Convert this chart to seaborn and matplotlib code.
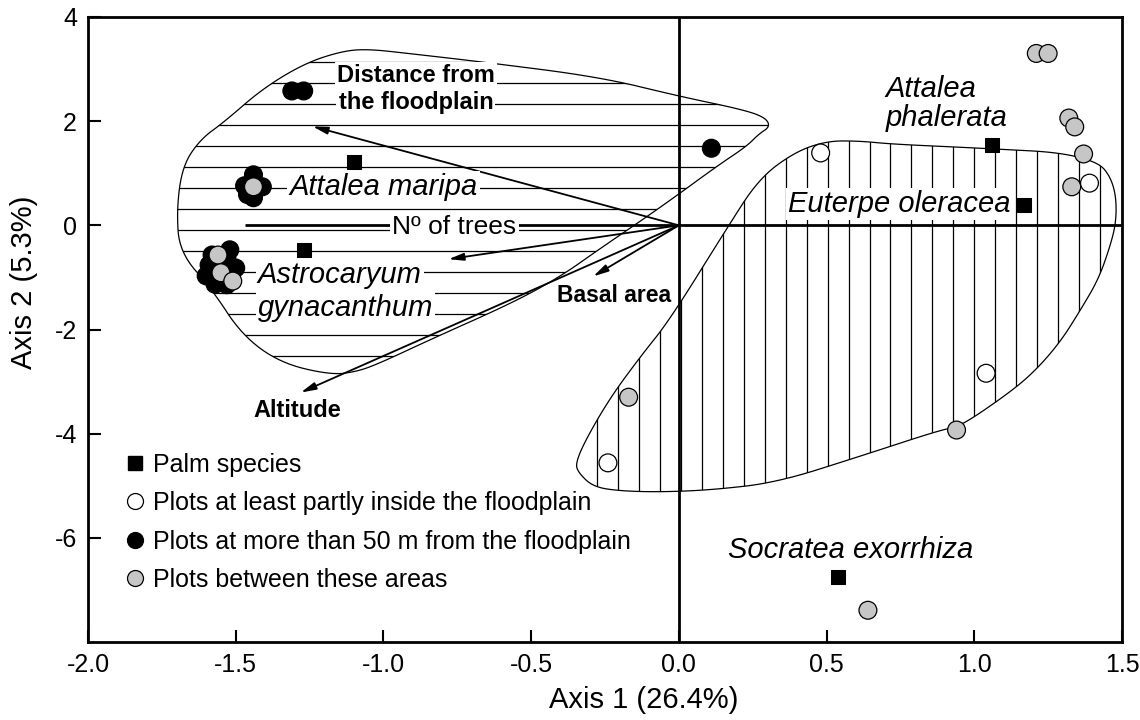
import numpy as np
import pandas as pd
import matplotlib
matplotlib.use("Agg")
import matplotlib.pyplot as plt
from matplotlib.patches import Polygon
from matplotlib.lines import Line2D
import seaborn as sns

# --- Palm species scores (squares) ---
species = ["Attalea maripa", "Astrocaryum gynacanthum", "Attalea phalerata",
           "Euterpe oleracea", "Socratea exorrhiza"]
species_x = [-1.10, -1.27, 1.06, 1.17, 0.54]
species_y = [1.21, -0.47, 1.54, 0.40, -6.75]

# --- Plot scores by group ---
far_x = [-1.31, -1.27, 0.11,
         -1.44, -1.47, -1.41, -1.44, -1.46,
         -1.52, -1.59, -1.60, -1.57, -1.53, -1.50, -1.53, -1.58]
far_y = [2.58, 2.58, 1.48,
         0.97, 0.76, 0.74, 0.53, 0.59,
         -0.47, -0.76, -0.97, -1.13, -1.14, -0.82, -0.63, -0.57]

between_x = [-1.44, -1.56, -1.55, -1.51,
             1.21, 1.25, 1.32, 1.34, 1.37, 1.33,
             -0.17, 0.94, 0.64]
between_y = [0.74, -0.57, -0.91, -1.07,
             3.30, 3.30, 2.06, 1.89, 1.37, 0.74,
             -3.30, -3.93, -7.39]

inside_x = [0.48, 1.39, 1.04, -0.24]
inside_y = [1.39, 0.81, -2.84, -4.56]

# --- Environmental vectors ---
vectors = ["Distance from the floodplain", "N\u00ba of trees", "Basal area", "Altitude"]
vec_x = [-1.24, -0.78, -0.29, -1.28]
vec_y = [1.90, -0.65, -0.98, -3.21]

# --- Hull outlines ---
hull_up_x = [-1.68, -1.62, -1.54, -1.41, -1.27, -1.15, -1.06, -0.90, -0.67, -0.27,
             0.00, 0.21, 0.29, 0.31, 0.27, 0.23, 0.13, -0.01, -0.12, -0.27,
             -0.40, -0.56, -0.84, -1.01, -1.09, -1.18, -1.35, -1.48, -1.58, -1.69, -1.70]
hull_up_y = [1.14, 1.65, 1.98, 2.62, 3.10, 3.33, 3.39, 3.29, 3.14, 2.85,
             2.48, 2.23, 2.08, 1.90, 1.75, 1.52, 1.14, 0.56, 0.12, -0.46,
             -0.98, -1.48, -2.19, -2.64, -2.81, -2.87, -2.64, -2.10, -1.23, -0.52, 0.31]

hull_low_x = [-0.35, -0.34, -0.29, -0.20, -0.06, 0.11, 0.33, 0.61, 0.89, 0.95,
              1.11, 1.20, 1.29, 1.36, 1.42, 1.46, 1.48, 1.48, 1.46, 1.42,
              1.29, 1.09, 0.95, 0.72, 0.61, 0.50, 0.39, 0.27, 0.16, -0.03,
              -0.13, -0.23, -0.31]
hull_low_y = [-4.56, -4.75, -5.02, -5.10, -5.12, -5.08, -4.94, -4.44, -3.92, -3.87,
              -3.25, -2.83, -2.25, -1.62, -1.04, -0.40, 0.06, 0.56, 0.94, 1.21,
              1.40, 1.46, 1.50, 1.56, 1.62, 1.62, 1.40, 0.89, -0.08, -1.81,
              -2.52, -3.29, -4.06]


def chaikin(x, y, n=3):
    pts = np.column_stack([x, y])
    for _ in range(n):
        nxt = np.roll(pts, -1, axis=0)
        new = np.empty((2 * len(pts), 2))
        new[0::2] = 0.75 * pts + 0.25 * nxt
        new[1::2] = 0.25 * pts + 0.75 * nxt
        pts = new
    return pts


sns.set_style("ticks")
plt.rcParams["font.family"] = ["Liberation Sans", "DejaVu Sans"]
plt.rcParams["axes.unicode_minus"] = False
for key in ["text.color", "axes.labelcolor", "xtick.color", "ytick.color",
            "axes.edgecolor"]:
    plt.rcParams[key] = "black"

fig = plt.figure(figsize=(11.4, 7.2), dpi=100)
ax = fig.add_axes([0.0772, 0.1083, 0.907, 0.8681])
ax.set_xlim(-2.0, 1.5)
ax.set_ylim(-8.0, 4.0)

# hulls with hatching clipped to them
up = Polygon(chaikin(hull_up_x, hull_up_y), closed=True, fill=False,
             edgecolor="black", lw=0.9, zorder=2)
low = Polygon(chaikin(hull_low_x, hull_low_y), closed=True, fill=False,
              edgecolor="black", lw=0.9, zorder=2)
ax.add_patch(up)
ax.add_patch(low)

hy = 3.135 - 0.403 * np.arange(0, 16)
hl = ax.hlines(hy, -2.0, 1.5, color="black", lw=0.9, zorder=1)
hl.set_clip_path(up)
vx = -0.2776 + 0.071 * np.arange(0, 26)
vl = ax.vlines(vx, -8.0, 4.0, color="black", lw=0.9, zorder=1)
vl.set_clip_path(low)

# axes through origin
ax.axvline(0, color="black", lw=2, zorder=2)
ax.hlines(0, -1.47, 1.5, color="black", lw=2, zorder=2)

# vectors
for vx_, vy_ in zip(vec_x, vec_y):
    ax.annotate("", xy=(vx_, vy_), xytext=(0, 0),
                arrowprops=dict(arrowstyle="-|>,head_length=0.9,head_width=0.22",
                                color="black", lw=1.3, shrinkA=0, shrinkB=0),
                zorder=3)

white = dict(facecolor="white", edgecolor="none", pad=1.5)
ax.text(-0.89, 2.87, "Distance from", fontsize=17, fontweight="bold",
        ha="center", va="center", bbox=white, zorder=4)
ax.text(-0.89, 2.36, "the floodplain", fontsize=17, fontweight="bold",
        ha="center", va="center", bbox=white, zorder=4)
ax.text(-0.76, -0.04, "N\u00ba of trees", fontsize=19, ha="center", va="center",
        bbox=white, zorder=4)
ax.text(-0.22, -1.34, "Basal area", fontsize=16.5, fontweight="bold",
        ha="center", va="center", zorder=4)
ax.text(-1.29, -3.55, "Altitude", fontsize=17, fontweight="bold",
        ha="center", va="center", zorder=4)

ax.text(-1.00, 0.74, "Attalea maripa", fontsize=21, style="italic",
        ha="center", va="center", bbox=white, zorder=4)
ax.text(-1.425, -0.95, "Astrocaryum", fontsize=21, style="italic",
        ha="left", va="center", bbox=white, zorder=4)
ax.text(-1.425, -1.58, "gynacanthum", fontsize=21, style="italic",
        ha="left", va="center", bbox=white, zorder=4)
ax.text(0.70, 2.62, "Attalea", fontsize=21, style="italic",
        ha="left", va="center", zorder=4)
ax.text(0.70, 2.07, "phalerata", fontsize=21, style="italic",
        ha="left", va="center", zorder=4)
ax.text(0.37, 0.41, "Euterpe oleracea", fontsize=21, style="italic",
        ha="left", va="center", bbox=white, zorder=4)
ax.text(0.58, -6.24, "Socratea exorrhiza", fontsize=21, style="italic",
        ha="center", va="center", zorder=4)

# plot points
plots = pd.DataFrame({
    "x": far_x + between_x + inside_x,
    "y": far_y + between_y + inside_y,
    "group": ["far"] * len(far_x) + ["between"] * len(between_x) + ["inside"] * len(inside_x),
})
sns.scatterplot(data=plots, x="x", y="y", hue="group",
                palette={"far": "black", "between": "#c6c6c6", "inside": "white"},
                edgecolor="black", linewidth=0.9, s=165, legend=False,
                zorder=5, ax=ax)
sns.scatterplot(x=species_x, y=species_y, marker="s", color="black",
                edgecolor="black", s=90, zorder=5, ax=ax)

# legend
handles = [
    Line2D([], [], ls="", marker="s", color="black", markersize=9.5),
    Line2D([], [], ls="", marker="o", mfc="white", mec="black", mew=0.9, markersize=11.5),
    Line2D([], [], ls="", marker="o", mfc="black", mec="black", mew=0.9, markersize=11.5),
    Line2D([], [], ls="", marker="o", mfc="#c6c6c6", mec="black", mew=0.9, markersize=11.5),
]
labels = ["Palm species", "Plots at least partly inside the floodplain",
          "Plots at more than 50 m from the floodplain", "Plots between these areas"]
ax.legend(handles, labels, loc="upper left", bbox_to_anchor=(0.033, 0.303),
          frameon=False, fontsize=18, handlelength=1.0, handletextpad=0.25,
          labelspacing=0.58, borderpad=0, borderaxespad=0)

# axes styling
ax.set_xticks(np.arange(-2.0, 1.51, 0.5))
ax.set_xticklabels([f"{v:.1f}" for v in np.arange(-2.0, 1.51, 0.5)])
ax.set_yticks([-6, -4, -2, 0, 2, 4])
ax.tick_params(direction="in", length=9, width=1.5, labelsize=18, pad=8,
               colors="black")
for sp in ax.spines.values():
    sp.set_linewidth(2)
    sp.set_color("black")
ax.set_xlabel("Axis 1 (26.4%)", fontsize=21)
ax.set_ylabel("Axis 2 (5.3%)", fontsize=21)
ax.xaxis.set_label_coords(0.537, -0.071)
ax.yaxis.set_label_coords(-0.048, 0.576)

fig.savefig("out.png", dpi=100)
